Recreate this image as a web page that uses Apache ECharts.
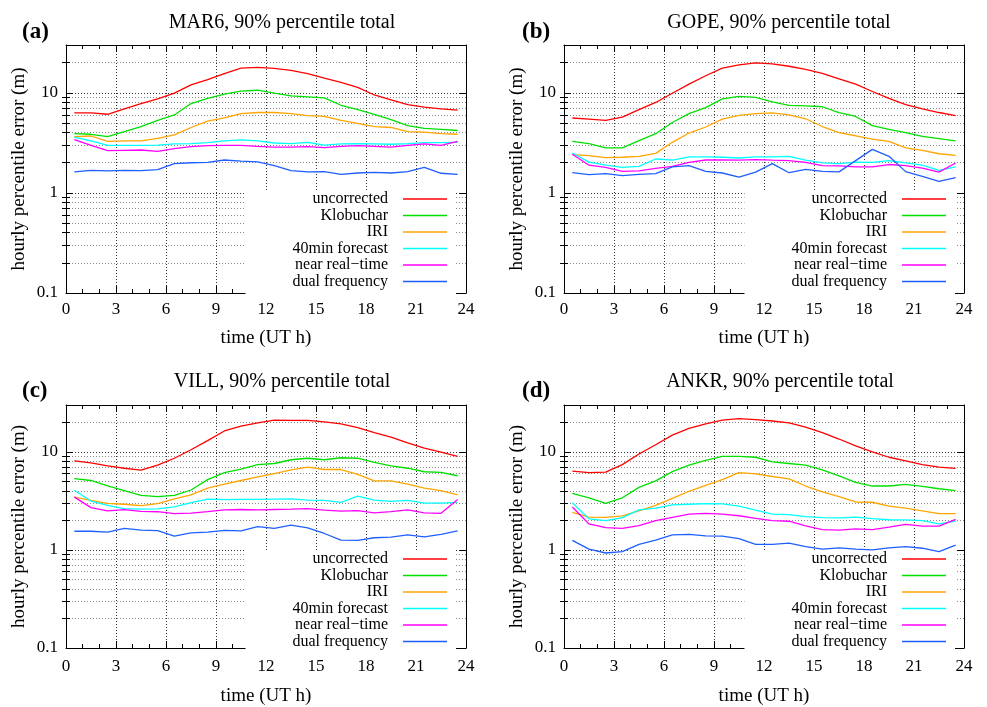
<!DOCTYPE html>
<html>
<head>
<meta charset="utf-8">
<script src="https://cdn.jsdelivr.net/npm/echarts@6/dist/echarts.min.js"></script>
<style>
html,body{margin:0;padding:0;background:#fff;}
#chart{width:987px;height:707px;}
</style>
</head>
<body>
<div id="chart"></div>
<script>
// ---- data ----
const hours = [0.5,1.5,2.5,3.5,4.5,5.5,6.5,7.5,8.5,9.5,10.5,11.5,12.5,13.5,14.5,15.5,16.5,17.5,18.5,19.5,20.5,21.5,22.5,23.5];
const seriesNames = ['uncorrected','Klobuchar','IRI','40min forecast','near real\u2212time','dual frequency'];
const panelTitles = ['MAR6, 90% percentile total','GOPE, 90% percentile total','VILL, 90% percentile total','ANKR, 90% percentile total'];
const panelLabels = ['(a)','(b)','(c)','(d)'];
const xTicks = [0,3,6,9,12,15,18,21,24];
const yMajorTicks = [0.1,1,10];
const yMinorTicks = [0.2,0.3,0.4,0.5,0.6,0.7,0.8,0.9,2,3,4,5,6,7,8,9,20];

const a_uncorrected = [6.3,6.3,6.1,6.9,7.8,8.7,9.9,12.0,13.5,15.5,17.6,17.9,17.5,16.7,15.5,14.0,12.7,11.3,9.5,8.5,7.6,7.2,6.9,6.7];
const a_klobuchar = [3.9,3.85,3.65,4.1,4.6,5.3,6.0,7.8,8.8,9.7,10.4,10.6,9.9,9.3,9.1,8.9,7.5,6.8,6.1,5.4,4.7,4.4,4.3,4.2];
const a_iri = [3.65,3.7,3.27,3.3,3.3,3.5,3.8,4.5,5.2,5.6,6.2,6.35,6.35,6.2,5.9,5.8,5.3,4.95,4.6,4.5,4.1,4.05,3.9,3.85];
const a_forecast = [3.6,3.3,2.98,2.98,2.98,3.0,3.08,3.1,3.18,3.3,3.38,3.3,3.15,3.1,3.2,3.0,3.08,3.1,3.08,3.06,3.1,3.17,3.17,3.2];
const a_nrt = [3.4,2.98,2.64,2.66,2.68,2.6,2.77,2.9,2.96,2.98,2.98,2.92,2.87,2.87,2.9,2.83,2.92,2.96,2.92,2.87,2.98,3.08,2.98,3.27];
const a_dual = [1.62,1.68,1.66,1.68,1.67,1.71,1.96,2.0,2.02,2.13,2.08,2.04,1.87,1.67,1.62,1.63,1.53,1.58,1.6,1.58,1.63,1.8,1.57,1.53];

const b_uncorrected = [5.6,5.45,5.3,5.7,6.8,8.0,9.9,12.2,14.8,17.6,19.0,19.9,19.4,18.4,17.1,15.6,13.8,12.2,10.3,8.8,7.6,6.9,6.35,5.9];
const b_klobuchar = [3.27,3.1,2.81,2.81,3.33,3.9,5.05,6.2,7.1,8.7,9.2,9.0,8.1,7.5,7.4,7.25,6.35,5.8,4.7,4.3,4.0,3.67,3.48,3.3];
const b_iri = [2.41,2.36,2.25,2.27,2.32,2.48,3.2,3.96,4.55,5.45,5.95,6.2,6.3,6.0,5.5,4.6,4.0,3.72,3.45,3.27,2.81,2.66,2.46,2.37];
const b_forecast = [2.5,2.03,1.89,1.8,1.84,2.18,2.12,2.29,2.29,2.27,2.23,2.29,2.29,2.32,2.12,1.99,1.96,2.03,2.02,2.1,1.99,1.89,1.68,1.82];
const b_nrt = [2.43,1.89,1.8,1.64,1.66,1.76,1.84,2.02,2.13,2.13,2.12,2.15,2.12,2.1,2.02,1.87,1.86,1.82,1.82,1.92,1.87,1.77,1.61,1.99];
const b_dual = [1.59,1.52,1.56,1.49,1.53,1.56,1.82,1.87,1.64,1.58,1.44,1.61,1.96,1.59,1.72,1.64,1.62,2.1,2.72,2.32,1.63,1.46,1.3,1.42];

const c_uncorrected = [8.1,7.7,7.2,6.8,6.5,7.3,8.6,10.5,13.0,16.3,18.3,19.7,21.0,20.9,20.9,20.2,19.3,17.6,15.7,14.1,12.3,10.9,9.9,9.0];
const c_klobuchar = [5.33,5.1,4.5,4.02,3.59,3.5,3.59,4.08,5.2,6.13,6.66,7.4,7.6,8.3,8.6,8.3,8.7,8.6,7.8,7.2,6.8,6.26,6.17,5.7];
const c_iri = [3.45,3.2,2.98,2.92,2.83,2.96,3.32,3.64,4.27,4.68,5.1,5.55,6.0,6.55,6.97,6.6,6.6,5.9,5.05,5.05,4.68,4.27,4.02,3.64];
const c_forecast = [4.05,3.15,2.85,2.64,2.6,2.62,2.74,3.03,3.3,3.25,3.27,3.27,3.3,3.32,3.22,3.2,3.05,3.53,3.22,3.12,3.2,3.0,3.0,3.05];
const c_nrt = [3.45,2.7,2.5,2.58,2.47,2.45,2.34,2.37,2.45,2.56,2.58,2.56,2.58,2.6,2.64,2.54,2.48,2.52,2.39,2.45,2.56,2.39,2.36,3.27];
const c_dual = [1.55,1.55,1.52,1.66,1.59,1.57,1.38,1.49,1.52,1.58,1.56,1.73,1.66,1.79,1.68,1.47,1.26,1.25,1.33,1.35,1.42,1.36,1.44,1.56];

const d_uncorrected = [6.35,6.13,6.2,7.4,9.5,11.8,14.8,17.3,19.3,21.0,21.8,21.3,20.6,19.7,17.8,15.7,13.5,11.5,10.0,8.8,8.1,7.4,6.97,6.77];
const d_klobuchar = [3.76,3.4,2.98,3.4,4.34,5.05,6.27,7.3,8.2,9.0,9.0,8.8,7.9,7.6,7.3,6.55,5.67,4.87,4.48,4.48,4.65,4.45,4.2,4.02];
const d_iri = [2.41,2.16,2.15,2.22,2.5,2.85,3.35,3.96,4.55,5.2,6.13,5.95,5.6,5.3,4.48,3.9,3.5,3.08,3.06,2.79,2.66,2.5,2.34,2.34];
const d_forecast = [3.03,2.07,1.99,2.13,2.56,2.66,2.88,2.92,2.96,2.94,2.79,2.54,2.32,2.29,2.18,2.13,2.12,2.16,2.08,2.03,2.02,1.99,1.84,1.96];
const d_nrt = [2.74,1.84,1.69,1.66,1.77,1.99,2.15,2.32,2.36,2.32,2.23,2.1,1.99,1.96,1.76,1.61,1.59,1.64,1.61,1.71,1.82,1.75,1.75,2.05];
const d_dual = [1.25,1.02,0.93,0.96,1.14,1.26,1.42,1.44,1.39,1.38,1.3,1.14,1.14,1.17,1.08,1.02,1.05,1.02,1.0,1.05,1.08,1.04,0.96,1.12];

const panelData = [
  [a_uncorrected,a_klobuchar,a_iri,a_forecast,a_nrt,a_dual],
  [b_uncorrected,b_klobuchar,b_iri,b_forecast,b_nrt,b_dual],
  [c_uncorrected,c_klobuchar,c_iri,c_forecast,c_nrt,c_dual],
  [d_uncorrected,d_klobuchar,d_iri,d_forecast,d_nrt,d_dual]
];

// ---- styles / layout ----
const colors = ['#ff0000','#00e000','#ffa500','#00ffff','#ff00ff','#1f5fff'];
const FONT = 'Liberation Serif';
const grids = [
  {left:66, top:45, width:400, height:248},
  {left:564, top:45, width:400, height:248},
  {left:66, top:405, width:400, height:248},
  {left:564, top:405, width:400, height:248}
];
const titlePos = [[282,13],[779,13],[282,372],[780,372]];
const labelPos = [[22,21],[522,21],[22,380],[522,380]];
const legendPos = [[531,190],[32,190],[531,550],[32,550]];
const xNameGap = [36,36,39,39];
const xLabelMargin = [8,8,10,10];

const option = {
  backgroundColor:'#fff',
  animation:false,
  title:[], grid:[], xAxis:[], yAxis:[], legend:[], series:[]
};

const fmt = v => (v < 1 ? v.toFixed(1) : String(Math.round(v)));

for (let i = 0; i < 4; i++) {
  option.grid.push(Object.assign({containLabel:false, show:false}, grids[i]));
  option.title.push({text:panelTitles[i], left:titlePos[i][0], top:titlePos[i][1], textAlign:'center', padding:0,
    textStyle:{fontFamily:FONT, fontSize:20, fontWeight:'normal', color:'#000'}});
  option.title.push({text:panelLabels[i], left:labelPos[i][0], top:labelPos[i][1], padding:0,
    textStyle:{fontFamily:FONT, fontSize:23, fontWeight:'bold', color:'#000'}});

  const axLine = {show:true, onZero:false, lineStyle:{color:'#000', width:1}};
  // bottom x
  option.xAxis.push({
    gridIndex:i, type:'value', min:0, max:24, interval:3, position:'bottom',
    axisLine:axLine,
    axisTick:{show:true, inside:true, length:7, lineStyle:{color:'#000'}},
    minorTick:{show:true, splitNumber:3, length:4, lineStyle:{color:'#000'}},
    axisLabel:{margin:xLabelMargin[i], fontSize:17, color:'#000', fontFamily:FONT},
    splitLine:{show:true, lineStyle:{type:[1,2], color:'#333', width:1}},
    name:'time (UT h)', nameLocation:'middle', nameGap:xNameGap[i],
    nameTextStyle:{fontFamily:FONT, fontSize:19, color:'#000'}
  });
  // top mirror x
  option.xAxis.push({
    gridIndex:i, type:'value', min:0, max:24, interval:3, position:'top',
    axisLine:axLine,
    axisTick:{show:true, inside:true, length:7, lineStyle:{color:'#000'}},
    minorTick:{show:true, splitNumber:3, length:4, lineStyle:{color:'#000'}},
    axisLabel:{show:false}, splitLine:{show:false}
  });
  // left major y
  option.yAxis.push({
    gridIndex:i, type:'log', logBase:10, min:0.1, max:30, position:'left',
    axisLine:axLine,
    axisTick:{show:true, inside:true, length:7, customValues:yMajorTicks, lineStyle:{color:'#000'}},
    axisLabel:{customValues:yMajorTicks, formatter:fmt, fontSize:17, color:'#000', fontFamily:FONT, margin:8},
    splitLine:{show:true, lineStyle:{type:[1,2], color:'#333', width:1}},
    name:'hourly percentile error (m)', nameLocation:'middle', nameGap:37,
    nameTextStyle:{fontFamily:FONT, fontSize:19, color:'#000'}
  });
  // left minor y
  option.yAxis.push({
    gridIndex:i, type:'log', logBase:10, min:0.1, max:30, position:'left',
    axisLine:{show:false},
    axisTick:{show:true, inside:true, length:4, customValues:yMinorTicks, lineStyle:{color:'#000'}},
    axisLabel:{show:false},
    splitLine:{show:true, lineStyle:{type:[1,2], color:'#8a8a8a', width:1}}
  });
  // right major y
  option.yAxis.push({
    gridIndex:i, type:'log', logBase:10, min:0.1, max:30, position:'right',
    axisLine:axLine,
    axisTick:{show:true, inside:true, length:7, customValues:yMajorTicks, lineStyle:{color:'#000'}},
    axisLabel:{show:false}, splitLine:{show:false}
  });
  // right minor y
  option.yAxis.push({
    gridIndex:i, type:'log', logBase:10, min:0.1, max:30, position:'right',
    axisLine:{show:false},
    axisTick:{show:true, inside:true, length:4, customValues:yMinorTicks, lineStyle:{color:'#000'}},
    axisLabel:{show:false}, splitLine:{show:false}
  });

  option.legend.push({
    orient:'vertical', align:'right', right:legendPos[i][0], top:legendPos[i][1],
    padding:[1,9,5,47], itemGap:0.5, itemWidth:44, itemHeight:1.6, icon:'rect',
    backgroundColor:'#fff', z:1, selectedMode:false,
    data:seriesNames,
    textStyle:{fontFamily:FONT, fontSize:16, color:'#000', padding:[0,10,0,0]}
  });

  for (let s = 0; s < 6; s++) {
    const vals = panelData[i][s];
    option.series.push({
      name:seriesNames[s], type:'line', xAxisIndex:i*2, yAxisIndex:i*4,
      symbol:'none', smooth:false, z:2,
      lineStyle:{color:colors[s], width:1.3},
      itemStyle:{color:colors[s]},
      data:hours.map((h,k) => [h, vals[k]])
    });
  }
}

const chart = echarts.init(document.getElementById('chart'), null, {renderer:'canvas'});
chart.setOption(option);
</script>
</body>
</html>
